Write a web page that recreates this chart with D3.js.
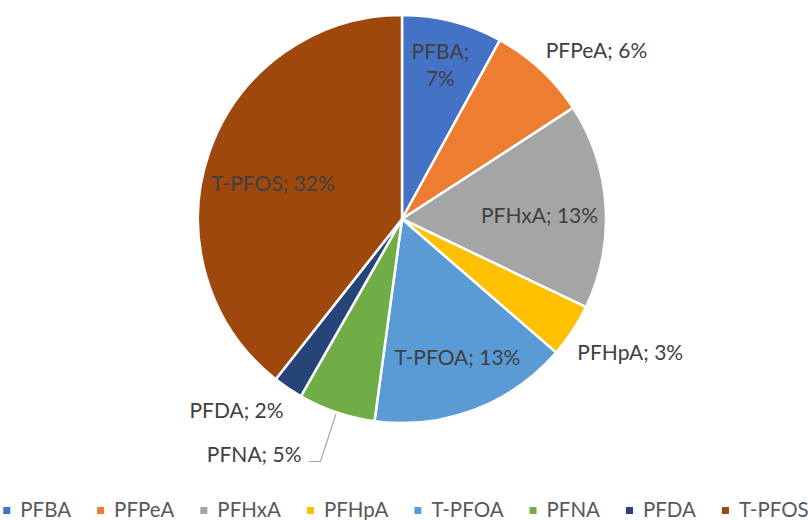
<!DOCTYPE html>
<html>
<head>
<meta charset="utf-8">
<script src="https://cdn.jsdelivr.net/npm/d3@7"></script>
<style>
  body { margin: 0; background: #fff; }
  svg { display: block; font-family: Lato, "Open Sans", sans-serif; }
</style>
</head>
<body>
<svg id="chart" width="808" height="520"></svg>
<script>
// data (labels show the rounded value)
var names = ["PFBA", "PFPeA", "PFHxA", "PFHpA", "T-PFOA", "PFNA", "PFDA", "T-PFOS"];
var values = [6.54, 6.45, 13.35, 3.49, 12.95, 5.0, 1.95, 32.3];
var colors = ["#4472C4", "#ED7D31", "#A5A5A5", "#FFC000", "#5B9BD5", "#70AD47", "#264478", "#9E480E"];

var width = 808, height = 520;
var cx = 402, cy = 219, radius = 204;

// where each data label sits: radius factor and a small nudge
var labelPlace = {
  "PFBA":   {k: 0.7,  dx: 3,   dy: -15, wrap: true},
  "PFPeA":  {k: 1.25, dx: 21,  dy: 19},
  "PFHxA":  {k: 0.7,  dx: -5,  dy: 6},
  "PFHpA":  {k: 1.25, dx: 15,  dy: -6},
  "T-PFOA": {k: 0.7,  dx: 5,   dy: 5},
  "PFNA":   {k: 1.25, dx: -66, dy: -6, leader: true},
  "PFDA":   {k: 1.25, dx: -23, dy: -19},
  "T-PFOS": {k: 0.7,  dx: 6,   dy: 12}
};

var data = names.map(function(n, i) { return {name: n, value: values[i], color: colors[i]}; });

var svg = d3.select("#chart");
var g = svg.append("g").attr("transform", "translate(" + cx + "," + cy + ")");

var pie = d3.pie().sort(null).value(function(d) { return d.value; });
var arc = d3.arc().innerRadius(0).outerRadius(radius);
var arcs = pie(data);

g.selectAll(".slice").data(arcs).enter()
  .append("path")
  .attr("class", "slice")
  .attr("d", arc)
  .attr("fill", function(d) { return d.data.color; })
  .attr("stroke", "#fff")
  .attr("stroke-width", 2.5)
  .attr("stroke-linejoin", "round");

function polar(a, r) { return [Math.sin(a) * r, -Math.cos(a) * r]; }

var labels = g.selectAll(".lbl").data(arcs).enter()
  .append("text")
  .attr("class", "lbl")
  .attr("text-anchor", "middle")
  .attr("fill", "#404040")
  .style("font-size", "21px");

labels.each(function(d) {
  var p = labelPlace[d.data.name];
  var mid = (d.startAngle + d.endAngle) / 2;
  var pt = polar(mid, radius * p.k);
  var x = pt[0] + p.dx, y = pt[1] + p.dy;
  var txt = d.data.name + "; " + d3.format(".0f")(d.data.value) + "%";
  var t = d3.select(this);
  if (p.wrap) {
    var parts = [d.data.name + ";", d3.format(".0f")(d.data.value) + "%"];
    parts.forEach(function(s, i) {
      t.append("tspan").attr("x", x).attr("y", y + 7 + (i - 0.5) * 27.5).text(s);
    });
  } else {
    t.attr("x", x).attr("y", y + 7).text(txt);
  }
  if (p.leader) {
    var w = this.getComputedTextLength();
    var right = x + w / 2;
    var start = polar(mid, radius + 2);
    g.append("polyline")
      .attr("points", [start, [right + 19, y + 7], [right + 7, y + 7]].map(function(q) { return q.join(","); }).join(" "))
      .attr("fill", "none")
      .attr("stroke", "#A6A6A6")
      .attr("stroke-width", 1.2);
  }
});

// legend along the bottom
var legend = svg.append("g");
var items = legend.selectAll(".leg").data(data).enter().append("g").attr("class", "leg");
items.append("rect").attr("width", 7).attr("height", 7).attr("y", 507)
  .attr("fill", function(d) { return d.color; });
items.append("text").attr("y", 517).attr("fill", "#595959").style("font-size", "20.5px")
  .text(function(d) { return d.name; });

var gap = 26, x0 = 0, widths = [];
items.each(function() { widths.push(d3.select(this).select("text").node().getComputedTextLength()); });
var total = d3.sum(widths) + widths.length * 17 + (widths.length - 1) * gap;
x0 = 406 - total / 2;
items.each(function(d, i) {
  var it = d3.select(this);
  it.select("rect").attr("x", x0);
  it.select("text").attr("x", x0 + 17);
  x0 += 17 + widths[i] + gap;
});
</script>
</body>
</html>
